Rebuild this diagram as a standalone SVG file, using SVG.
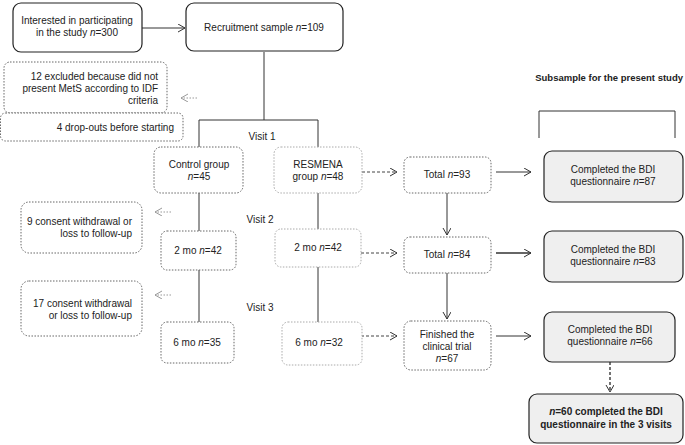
<svg xmlns="http://www.w3.org/2000/svg" width="685" height="445" viewBox="0 0 685 445">
<style>
text{font-family:"Liberation Sans",Arial,sans-serif;font-size:10px;fill:#222}
.b{font-weight:bold}
.solid{fill:#fff;stroke:#222;stroke-width:1.2}
.dot{fill:#fff;stroke:#666;stroke-width:1;stroke-dasharray:1.5 1.5}
.dotl{fill:#fff;stroke:#aaa;stroke-width:1;stroke-dasharray:1.5 1.5}
.gray{fill:#efefef;stroke:#222;stroke-width:1.2}
.ln{fill:none;stroke:#333;stroke-width:1}
.dl{fill:none;stroke:#444;stroke-width:1;stroke-dasharray:3 2}
.dla{fill:none;stroke:#999;stroke-width:1;stroke-dasharray:1.5 1.5}
.m{text-anchor:middle}
.r{text-anchor:end}
</style>
<defs>
<marker id="ah" markerWidth="10" markerHeight="10" refX="8" refY="4" orient="auto" markerUnits="userSpaceOnUse">
<path d="M1,0 L8,4 L1,8" fill="none" stroke="#333" stroke-width="1"/>
</marker>
<marker id="ahl" markerWidth="10" markerHeight="10" refX="8" refY="4" orient="auto" markerUnits="userSpaceOnUse">
<path d="M1,0 L8,4 L1,8" fill="none" stroke="#999" stroke-width="1"/>
</marker>
</defs>
<g id="connectors">
<line class="ln" x1="142" y1="28" x2="185" y2="28" marker-end="url(#ah)"/>
<polyline class="ln" points="264,52 264,120"/>
<polyline class="ln" points="199,147 199,120 318,120 318,147"/>
<line class="ln" x1="199" y1="193" x2="199" y2="231"/>
<line class="ln" x1="318" y1="193" x2="318" y2="229"/>
<line class="ln" x1="199" y1="270" x2="199" y2="322"/>
<line class="ln" x1="318" y1="267" x2="318" y2="322"/>
<line class="dla" x1="197" y1="98" x2="181" y2="98" marker-end="url(#ahl)"/>
<line class="dla" x1="171" y1="212" x2="155" y2="212" marker-end="url(#ahl)"/>
<line class="dla" x1="171" y1="295" x2="155" y2="295" marker-end="url(#ahl)"/>
<line class="dl" x1="362" y1="172" x2="397" y2="172" marker-end="url(#ah)"/>
<line class="dl" x1="361" y1="253" x2="397" y2="253" marker-end="url(#ah)"/>
<line class="dl" x1="361" y1="336" x2="397" y2="336" marker-end="url(#ah)"/>
<line class="ln" x1="496" y1="172" x2="531" y2="172" marker-end="url(#ah)"/>
<line class="ln" x1="496" y1="253" x2="531" y2="253" marker-end="url(#ah)" style="stroke-width:1.5"/>
<line class="ln" x1="496" y1="336" x2="531" y2="336" marker-end="url(#ah)"/>
<line class="ln" x1="447" y1="193" x2="447" y2="235" marker-end="url(#ah)"/>
<line class="ln" x1="447" y1="273" x2="447" y2="319" marker-end="url(#ah)"/>
<line class="dl" x1="610" y1="362" x2="610" y2="392" marker-end="url(#ah)" style="stroke-width:1.5"/>
<polyline class="ln" points="539,138 539,111 675,111 675,138"/>
</g>
<g id="interested">
<rect class="solid" x="13" y="3" width="129" height="49" rx="8"/>
<text x="77" y="24" class="m">Interested in participating</text>
<text x="77" y="36" class="m">in the study <tspan font-style="italic">n</tspan>=300</text>
</g>
<g id="recruitment">
<rect class="solid" x="186" y="3" width="157" height="48" rx="8"/>
<text x="264" y="31" class="m">Recruitment sample <tspan font-style="italic">n</tspan>=109</text>
</g>
<g id="excluded">
<rect class="dot" x="4" y="62" width="163" height="51" rx="6"/>
<text x="158" y="80" class="r">12 excluded because did not</text>
<text x="158" y="92" class="r">present MetS according to IDF</text>
<text x="158" y="104" class="r">criteria</text>
</g>
<g id="dropouts">
<rect class="dot" x="0.5" y="113" width="182.5" height="28" rx="5"/>
<text x="174" y="131" class="r">4 drop-outs before starting</text>
</g>
<g id="visit1"><text x="262" y="140" class="m">Visit 1</text></g>
<g id="control">
<rect class="dot" x="154" y="147" width="89" height="46" rx="7"/>
<text x="199" y="168" class="m">Control group</text>
<text x="199" y="180" class="m"><tspan font-style="italic">n</tspan>=45</text>
</g>
<g id="resmena">
<rect class="dotl" x="274" y="147" width="88" height="46" rx="7"/>
<text x="318" y="168" class="m">RESMENA</text>
<text x="318" y="180" class="m">group <tspan font-style="italic">n</tspan>=48</text>
</g>
<g id="withdraw9">
<rect class="dot" x="21" y="202" width="121" height="51" rx="8"/>
<text x="132" y="225" class="r">9 consent withdrawal or</text>
<text x="132" y="237" class="r">loss to follow-up</text>
</g>
<g id="visit2"><text x="260" y="223" class="m">Visit 2</text></g>
<g id="c2mo">
<rect class="dot" x="161" y="231" width="75" height="39" rx="6"/>
<text x="198" y="254" class="m">2 mo <tspan font-style="italic">n</tspan>=42</text>
</g>
<g id="r2mo">
<rect class="dotl" x="275" y="229" width="86" height="38" rx="6"/>
<text x="318" y="251" class="m">2 mo <tspan font-style="italic">n</tspan>=42</text>
</g>
<g id="withdraw17">
<rect class="dot" x="21" y="281" width="121" height="55" rx="8"/>
<text x="132" y="307" class="r">17 consent withdrawal</text>
<text x="132" y="319" class="r">or loss to follow-up</text>
</g>
<g id="visit3"><text x="260" y="311" class="m">Visit 3</text></g>
<g id="c6mo">
<rect class="dot" x="161" y="322" width="73" height="41" rx="6"/>
<text x="197" y="346" class="m">6 mo <tspan font-style="italic">n</tspan>=35</text>
</g>
<g id="r6mo">
<rect class="dotl" x="282" y="322" width="80" height="43" rx="6"/>
<text x="319" y="346" class="m">6 mo <tspan font-style="italic">n</tspan>=32</text>
</g>
<g id="total93">
<rect class="dot" x="404" y="157" width="87" height="36" rx="6"/>
<text x="447" y="178" class="m">Total <tspan font-style="italic">n</tspan>=93</text>
</g>
<g id="total84">
<rect class="dot" x="404" y="237" width="87" height="36" rx="6"/>
<text x="447" y="258" class="m">Total <tspan font-style="italic">n</tspan>=84</text>
</g>
<g id="finished">
<rect class="dot" x="404" y="321" width="87" height="49" rx="7"/>
<text x="447" y="338" class="m">Finished the</text>
<text x="447" y="350" class="m">clinical trial</text>
<text x="447" y="362" class="m"><tspan font-style="italic">n</tspan>=67</text>
</g>
<g id="subsample"><text x="683" y="81" class="b r" style="font-size:9.5px">Subsample for the present study</text></g>
<g id="bdi87">
<rect class="gray" x="544" y="151" width="139" height="51" rx="8"/>
<text x="613" y="173" class="m">Completed the BDI</text>
<text x="613" y="185" class="m">questionnaire <tspan font-style="italic">n</tspan>=87</text>
</g>
<g id="bdi83">
<rect class="gray" x="544" y="231" width="139" height="51" rx="8"/>
<text x="613" y="253" class="m">Completed the BDI</text>
<text x="613" y="265" class="m">questionnaire <tspan font-style="italic">n</tspan>=83</text>
</g>
<g id="bdi66">
<rect class="gray" x="544" y="312" width="131" height="50" rx="8"/>
<text x="610" y="333" class="m">Completed the BDI</text>
<text x="610" y="345" class="m">questionnaire <tspan font-style="italic">n</tspan>=66</text>
</g>
<g id="bdi60">
<rect class="gray" x="529" y="394" width="154" height="49" rx="8"/>
<text x="606" y="415" class="m b"><tspan font-style="italic">n</tspan>=60 completed the BDI</text>
<text x="606" y="428" class="m b">questionnaire in the 3 visits</text>
</g>
</svg>
